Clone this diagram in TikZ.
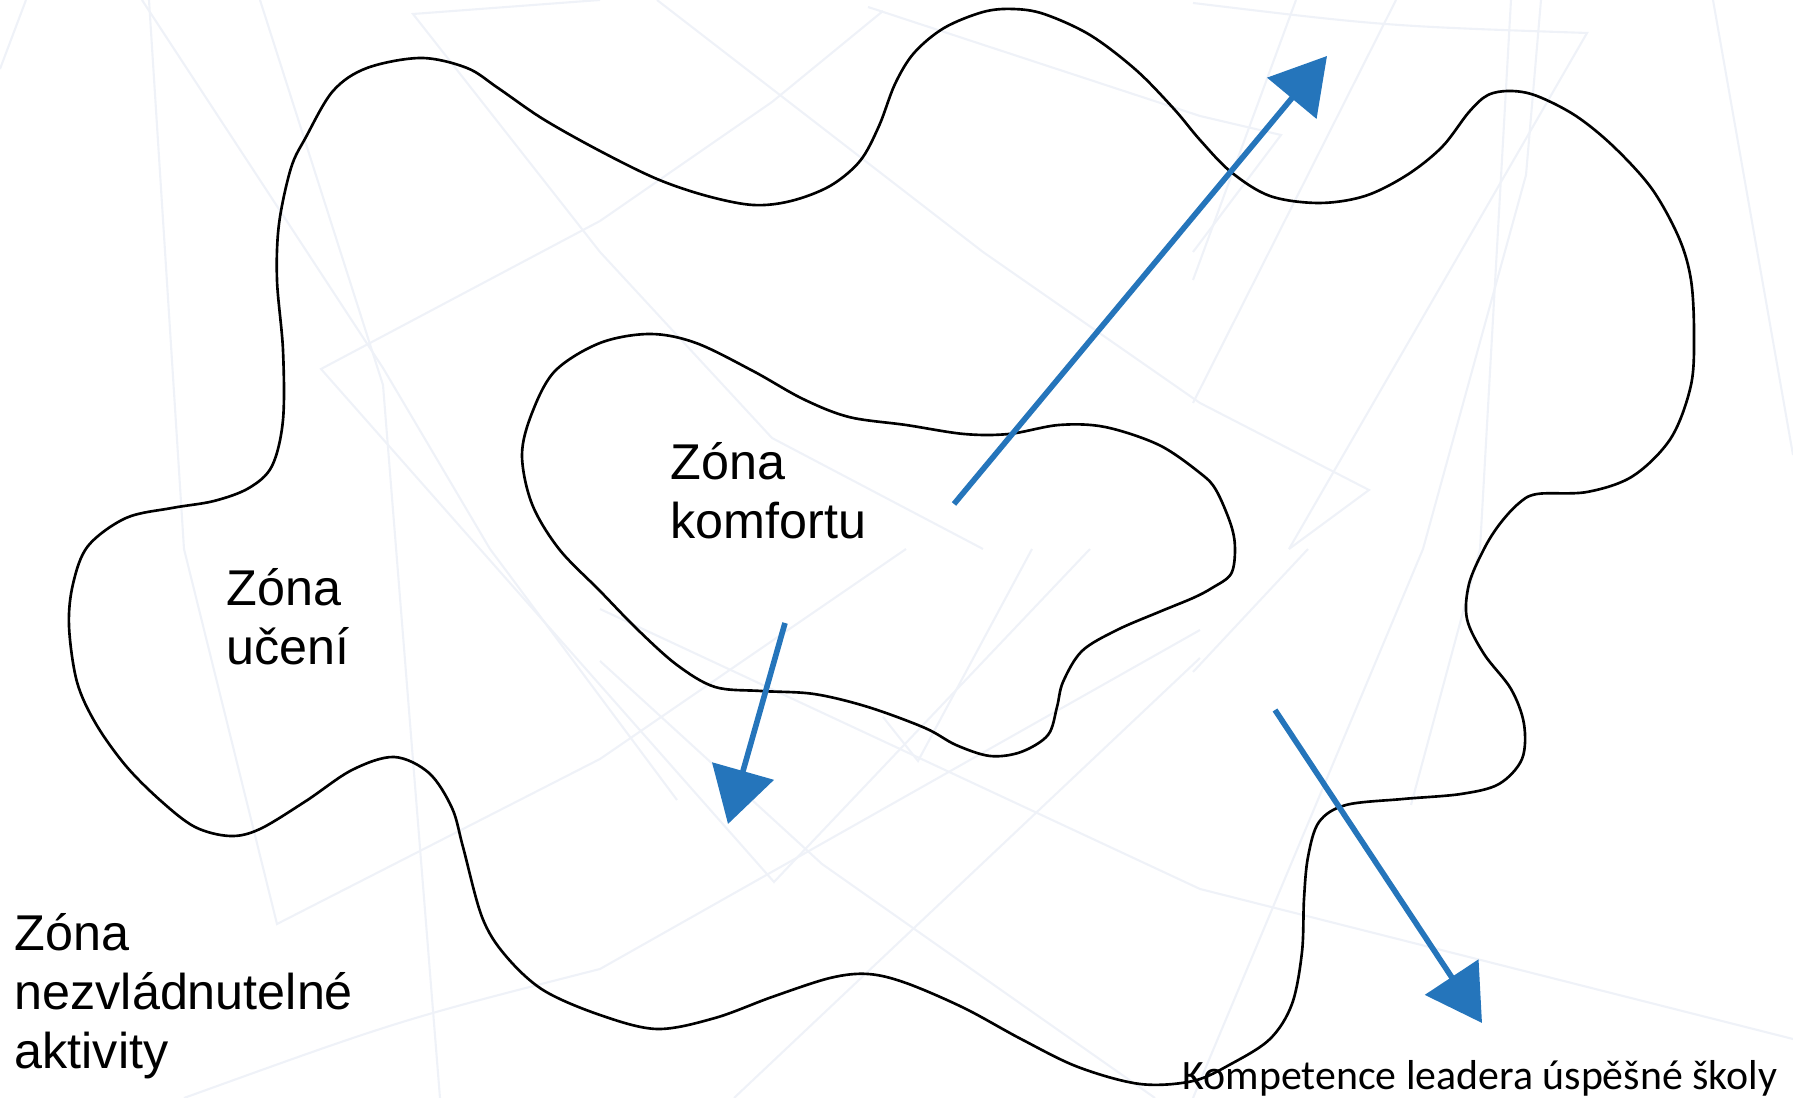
\documentclass[tikz,border=0pt]{standalone}
\usepackage{fontspec}
\setmainfont{Liberation Sans}
\newfontfamily\calibri{Carlito}
\usetikzlibrary{arrows.meta}
\definecolor{zoneblue}{RGB}{37,117,187}
\definecolor{faint}{RGB}{239,242,248}
\tikzset{>={Triangle[length=0.55cm,width=0.63cm]}}
\tikzset{
  zone/.style={draw=black,line width=0.75pt},
  zonetext/.style={anchor=base west,inner sep=0pt,align=left,
    font=\fontsize{14.3}{16.8}\selectfont},
  push/.style={->,draw=zoneblue,fill=zoneblue,line width=1.6pt},
  bgline/.style={draw=faint,line width=0.6pt}
}

\begin{document}
\begin{tikzpicture}[x=0.01cm,y=-0.01cm]
\useasboundingbox (0,0) rectangle (1793,1098);

% background
\draw[bgline] (149,0) -- (184,549) -- (277,924) -- (600,759) -- (906,549);
\draw[bgline] (260,0) -- (383,385) -- (440,1098);
\draw[bgline] (142,0) -- (383,368) -- (490,549) -- (677,800);
\draw[bgline] (600,221) -- (321,369) -- (774,882) -- (1090,549);
\draw[bgline] (1193,3) .. controls (1384,26) .. (1587,33) -- (1289,549);
\draw[bgline] (600,0) -- (413,14) -- (600,252) -- (772,438) -- (983,549);
\draw[bgline] (657,0) -- (983,252) -- (1200,403) -- (1369,490) -- (1289,549);
\draw[bgline] (600,221) -- (772,102) -- (883,11);
\draw[bgline] (868,7) -- (1200,116) -- (1281,135) -- (1193,252);
\draw[bgline] (1396,0) -- (1193,403);
\draw[bgline] (1296,0) -- (1193,280);
\draw[bgline] (1541,0) -- (1526,175) -- (1423,549) -- (1193,1098);
\draw[bgline] (1713,0) -- (1793,455);
\draw[bgline] (600,609) -- (1200,889) -- (1793,1039);
\draw[bgline] (184,1098) .. controls (400,1020) .. (600,969) -- (1200,630);
\draw[bgline] (734,1098) -- (1200,658);
\draw[bgline] (600,661) -- (822,864) -- (1021,1004) -- (1155,1098);
\draw[bgline] (883,717) -- (918,761) -- (1032,549);
\draw[bgline] (1511,0) -- (1480,549) -- (1411,805);
\draw[bgline] (1193,672) -- (1308,549);
\draw[bgline] (0,69) -- (26,0);

% outer zone
\draw[zone] plot[smooth cycle,tension=0.55] coordinates {
  (73,584) (88,546) (126,518) (172,508) (214,501) (249,488) (272,466)
  (283,420) (283,350) (277,280) (279,224) (291,168) (306,137) (333,91)
  (367,68) (421,58) (467,68) (498,88) (543,119) (600,151) (657,179)
  (707,196) (753,205) (791,201) (830,186) (860,161) (879,126) (895,84)
  (914,53) (944,28) (983,12) (1013,9) (1044,14) (1090,35) (1136,70)
  (1174,109) (1200,140) (1231,172) (1270,196) (1319,203) (1365,196)
  (1407,175) (1442,147) (1469,112) (1488,95) (1511,91) (1537,96)
  (1576,116) (1614,147) (1652,189) (1679,238) (1691,280) (1694,333)
  (1691,385) (1671,438) (1633,476) (1587,492) (1537,494) (1518,504)
  (1499,525) (1484,549) (1469,584) (1467,619) (1484,654) (1511,689)
  (1524,724) (1522,759) (1499,784) (1461,794) (1403,799) (1346,805)
  (1319,822) (1308,857) (1304,899) (1302,952) (1292,1004) (1270,1039)
  (1231,1064) (1193,1081) (1140,1084) (1078,1067) (1021,1039) (964,1008)
  (906,983) (868,974) (830,978) (772,997) (715,1018) (657,1029)
  (600,1015) (543,990) (505,955) (482,917) (463,847) (452,808)
  (429,773) (394,757) (352,770) (306,801) (260,829) (230,836)
  (195,827) (161,801) (126,766) (96,724) (77,682) (69,626)};

% inner zone
\draw[zone] plot[smooth cycle,tension=0.55] coordinates {
  (522,455) (532,413) (555,371) (600,343) (650,334) (696,343) (753,371)
  (803,399) (849,417) (906,425) (964,434) (1009,434) (1059,425)
  (1105,427) (1159,445) (1200,473) (1216,490) (1231,525) (1235,549)
  (1231,574) (1212,588) (1193,598) (1159,612) (1117,630) (1082,651)
  (1063,682) (1057,707) (1048,735) (1021,752) (990,756) (956,745)
  (925,728) (868,707) (814,694) (761,691) (715,687) (677,665)
  (638,630) (600,591) (559,549) (532,504)};

% labels (placed at the last baseline)
\node[zonetext] (komfort) at (670,539) {Zóna\\komfortu};
\node[zonetext] (uceni) at (226,665) {Zóna\\učení};
\node[zonetext] (nezvl) at (14,1069) {Zóna\\nezvládnutelné\\aktivity};
\node[anchor=base west,inner sep=0pt,font=\calibri\fontsize{11.9}{14}\selectfont]
  (kompetence) at (1182,1090) {Kompetence leadera úspěšné školy};

% arrows
\coordinate (out1) at (954,504);
\coordinate (tip1) at (1327,56);
\coordinate (out2) at (785,623);
\coordinate (tip2) at (728,824);
\coordinate (out3) at (1275,710);
\coordinate (tip3) at (1482,1023);
\draw[push] (out1) -- (tip1);
\draw[push] (out2) -- (tip2);
\draw[push] (out3) -- (tip3);
\end{tikzpicture}
\end{document}
